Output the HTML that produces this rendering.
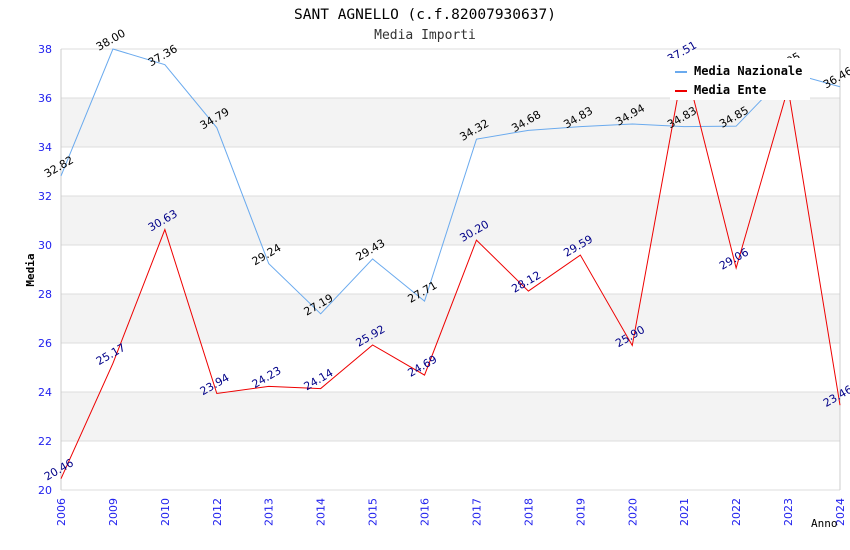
<!DOCTYPE html>
<html><head><meta charset="utf-8"><style>
body{margin:0;background:#fff}
svg{display:block}
</style></head><body>
<svg id="chart" width="850" height="550" xmlns="http://www.w3.org/2000/svg">
<text x="425" y="19" text-anchor="middle" font-family="DejaVu Sans Mono, Liberation Mono, monospace" font-size="14.5" fill="#000">SANT AGNELLO (c.f.82007930637)</text>
<text x="425" y="39" text-anchor="middle" font-family="DejaVu Sans Mono, Liberation Mono, monospace" font-size="13" fill="#333">Media Importi</text>
<g id="bands"></g><g id="grid"></g><g id="axes"></g><g id="lines"></g><g id="labels"></g>
<text x="34" y="270" transform="rotate(-90 34 270)" text-anchor="middle" font-family="DejaVu Sans Mono, monospace" font-size="11" font-weight="bold">Media</text>
<text x="811" y="527" font-family="DejaVu Sans Mono, monospace" font-size="11">Anno</text>
<g>
<rect x="670" y="58" width="140" height="42" fill="#fff"/>
<line x1="675" y1="72" x2="687" y2="72" stroke="#6aaaee" stroke-width="2"/>
<text x="694" y="75" font-family="DejaVu Sans Mono, monospace" font-size="12" font-weight="bold">Media Nazionale</text>
<line x1="675" y1="91" x2="687" y2="91" stroke="#ee0000" stroke-width="2"/>
<text x="694" y="94" font-family="DejaVu Sans Mono, monospace" font-size="12" font-weight="bold">Media Ente</text>
</g>
</svg>
<script>
const categories=["2006","2009","2010","2012","2013","2014","2015","2016","2017","2018","2019","2020","2021","2022","2023","2024"];
const nazionale=[32.82,38.00,37.36,34.79,29.24,27.19,29.43,27.71,34.32,34.68,34.83,34.94,34.83,34.85,37.05,36.46];
const ente=[20.46,25.17,30.63,23.94,24.23,24.14,25.92,24.69,30.20,28.12,29.59,25.90,37.51,29.06,36.40,23.46];
const yTicks=[20,22,24,26,28,30,32,34,36,38];
const NS="http://www.w3.org/2000/svg";
const L=61,R=840,T=49,B=490,yMin=20,yMax=38;
const xs=i=>L+i*(R-L)/(categories.length-1);
const ys=v=>B-(v-yMin)*(B-T)/(yMax-yMin);
function mk(tag,attrs,parent,txt){const e=document.createElementNS(NS,tag);for(const k in attrs)e.setAttribute(k,attrs[k]);if(txt!=null)e.textContent=txt;document.getElementById(parent).appendChild(e);return e;}
for(let i=0;i<yTicks.length-1;i++){
  if(i%2===1){const b=mk('rect',{x:L,y:ys(yTicks[i+1]),width:R-L,height:ys(yTicks[i])-ys(yTicks[i+1]),fill:'#f3f3f3'},'bands');
  
  }
}
yTicks.forEach(v=>{
  const g=mk('line',{x1:L,x2:R,y1:ys(v),y2:ys(v),stroke:'#dddddd'},'grid');
  
  
  const t=mk('text',{x:L-9,y:ys(v)+4,'text-anchor':'end','font-family':'DejaVu Sans, sans-serif','font-size':11,fill:'#2222ee'},'axes',v);
  
  
});
mk('line',{x1:L,x2:L,y1:T,y2:B,stroke:'#ccc'},'axes');
mk('line',{x1:R,x2:R,y1:T,y2:B,stroke:'#ccc'},'axes');
categories.forEach((c,i)=>{
  const x=xs(i);
  const t=mk('text',{x:x+4,y:498,transform:`rotate(-90 ${x+4} 498)`,'text-anchor':'end','font-family':'DejaVu Sans, sans-serif','font-size':11,fill:'#2222ee'},'axes',c);
  
  
});
function series(data,color,lblColor,name){
  const p=mk('polyline',{points:data.map((v,i)=>xs(i)+','+ys(v)).join(' '),fill:'none',stroke:color,'stroke-width':1},'lines');
  
  
  data.forEach((v,i)=>{
    const x=xs(i)-14,y=ys(v)+2;
    const t=mk('text',{x:x,y:y,transform:`rotate(-30 ${x} ${y})`,'font-family':'DejaVu Sans, sans-serif','font-size':11,fill:lblColor},'labels',v.toFixed(2));
    
    
  });
}
series(nazionale,'#6aaaee','#000','nazionale');
series(ente,'#ee0000','#000088','ente');
</script>
</body></html>
